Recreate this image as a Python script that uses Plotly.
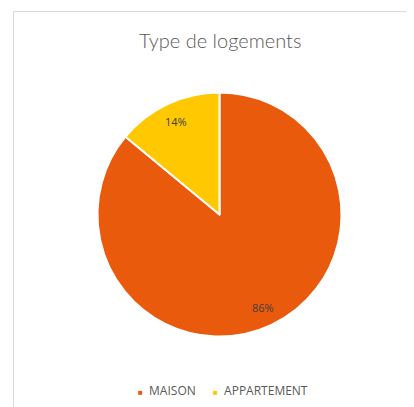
import math
import plotly.graph_objects as go

categories = ["MAISON", "APPARTEMENT"]
values = [86, 14]
colors = ["#E95A0C", "#FFC800"]
title_text = "Type de logements"

W, H = 414, 407
OFF = 8  # page body margin in the browser
cx, cy, r = 219.5 - OFF, 214.5 - OFF, 122

def px(x):
    return x / W

def py(y):
    return 1 - y / H

fig = go.Figure()
fig.add_trace(go.Pie(
    labels=categories,
    values=values,
    sort=False,
    direction="clockwise",
    rotation=0,
    marker=dict(colors=colors, line=dict(color="white", width=2)),
    textinfo="none",
    showlegend=False,
    hoverinfo="label+percent",
    domain=dict(x=[px(cx - r), px(cx + r)], y=[py(cy + r), py(cy - r)]),
))

annotations = [dict(
    text=title_text, x=px(220 - OFF), y=py(40 - OFF), xref="paper", yref="paper",
    showarrow=False, xanchor="center", yanchor="middle",
    font=dict(family="Lato", size=20, color="#595959", weight=300),
)]

# percentage labels placed along each slice bisector
total = sum(values)
cum = 0
for v in values:
    mid = (cum + v / 2) / total * 2 * math.pi
    cum += v
    lx = cx + 0.845 * r * math.sin(mid)
    ly = cy - 0.845 * r * math.cos(mid)
    annotations.append(dict(
        text=f"{round(v / total * 100)}%", x=px(lx), y=py(ly), xref="paper", yref="paper",
        showarrow=False, xanchor="center", yanchor="middle",
        font=dict(family="Open Sans", size=11, color="#404040"),
    ))

# legend built from the category list
legend_x = [136 - OFF, 211 - OFF]
for name, col, lx in zip(categories, colors, legend_x):
    annotations.append(dict(
        text=f"<span style='color:{col};font-size:8px'>■</span>  {name}",
        x=px(lx), y=py(390 - OFF), xref="paper", yref="paper", showarrow=False,
        xanchor="left", yanchor="middle",
        font=dict(family="Open Sans", size=12, color="#595959"),
    ))

fig.update_layout(
    width=W, height=H,
    margin=dict(l=0, r=0, t=0, b=0),
    paper_bgcolor="white",
    plot_bgcolor="white",
    annotations=annotations,
    shapes=[dict(type="rect", xref="paper", yref="paper",
                 x0=px(13.5 - OFF), x1=1.05, y0=-0.05, y1=py(11.5 - OFF),
                 line=dict(color="#D9D9D9", width=1), fillcolor="rgba(0,0,0,0)")],
)

fig.write_html("out.html")
